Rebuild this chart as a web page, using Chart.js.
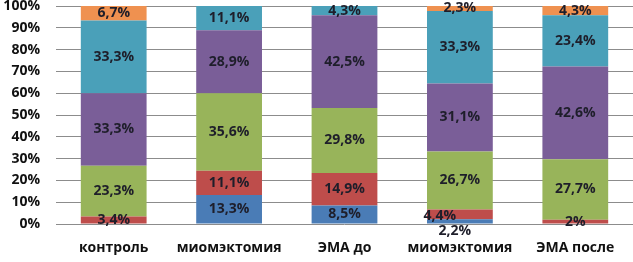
<!DOCTYPE html>
<html>
<head>
<meta charset="utf-8">
<script src="https://cdn.jsdelivr.net/npm/chart.js@4"></script>
<style>
  html, body { margin: 0; padding: 0; background: #fff; }
  #wrap { width: 633px; height: 262px; position: relative; }
</style>
</head>
<body>
<div id="wrap"><canvas id="chart"></canvas></div>
<script>
// categories and series (percent shares per group)
const groups = ['контроль', 'миомэктомия', 'ЭМА до', 'миомэктомия', 'ЭМА после'];
const blueVals   = [0, 13.3, 8.5, 2.2, 0];
const redVals    = [3.4, 11.1, 14.9, 4.4, 2];
const greenVals  = [23.3, 35.6, 29.8, 26.7, 27.7];
const purpleVals = [33.3, 28.9, 42.5, 31.1, 42.6];
const tealVals   = [33.3, 11.1, 4.3, 33.3, 23.4];
const orangeVals = [6.7, 0, 0, 2.3, 4.3];
const yTicks = [0, 10, 20, 30, 40, 50, 60, 70, 80, 90, 100];

const FONT = '"Open Sans", "Liberation Sans", sans-serif';

// small manual nudges for crowded labels (dataset index, category index) -> [dx, dy]
const labelNudge = { '0,3': [-5, 10], '1,3': [-20, 2] };

const segLabels = {
  id: 'segLabels',
  afterDatasetsDraw(chart) {
    const ctx = chart.ctx;
    ctx.save();
    ctx.font = 'bold 14px ' + FONT;
    ctx.fillStyle = '#1e1e2a';
    ctx.textAlign = 'center';
    ctx.textBaseline = 'middle';
    chart.data.datasets.forEach((ds, di) => {
      const meta = chart.getDatasetMeta(di);
      meta.data.forEach((bar, i) => {
        const v = ds.data[i];
        if (!v) return;
        const nudge = labelNudge[di + ',' + i] || [0, 0];
        const y = (bar.y + bar.base) / 2;
        ctx.fillText(String(v).replace('.', ',') + '%', bar.x + nudge[0], y + nudge[1]);
      });
    });
    ctx.restore();
  }
};

new Chart(document.getElementById('chart').getContext('2d'), {
  type: 'bar',
  data: {
    labels: groups,
    datasets: [
      { data: blueVals,   backgroundColor: '#4A7CB6' },
      { data: redVals,    backgroundColor: '#BE4D4B' },
      { data: greenVals,  backgroundColor: '#98B45A' },
      { data: purpleVals, backgroundColor: '#7A5E98' },
      { data: tealVals,   backgroundColor: '#4AA0B9' },
      { data: orangeVals, backgroundColor: '#EF9150' }
    ]
  },
  options: {
    responsive: true,
    maintainAspectRatio: false,
    animation: false,
    layout: { padding: { top: 6, right: 0, left: 0, bottom: 0 } },
    datasets: { bar: { categoryPercentage: 1, barPercentage: 0.57, borderWidth: 0 } },
    plugins: { legend: { display: false }, tooltip: { enabled: false } },
    scales: {
      x: {
        stacked: true,
        grid: { display: false },
        border: { display: false },
        ticks: { color: '#111', padding: 8, font: { family: FONT, size: 14, weight: 'bold' } },
        afterFit(scale) { scale.height = 38; }
      },
      y: {
        stacked: true,
        min: 0,
        max: 100,
        afterBuildTicks(scale) { scale.ticks = yTicks.map(v => ({ value: v })); },
        grid: { color: '#8c8c8c', lineWidth: 1, drawTicks: false },
        border: { display: false },
        ticks: {
          color: '#111',
          padding: 16,
          font: { family: FONT, size: 14, weight: 'bold' },
          callback: v => v + '%'
        },
        afterFit(scale) {
          scale.width = 56;
          scale.paddingTop = 0;
          scale.paddingBottom = 0;
        }
      }
    }
  },
  plugins: [segLabels]
});
</script>
</body>
</html>
